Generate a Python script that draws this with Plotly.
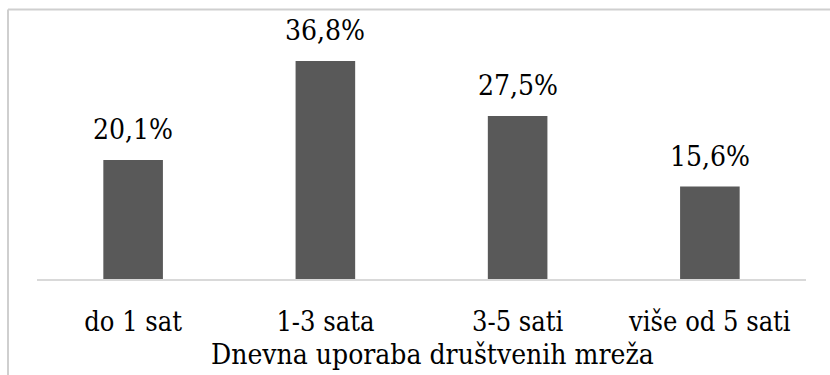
import plotly.graph_objects as go

categories = ["do 1 sat", "1-3 sata", "3-5 sati", "više od 5 sati"]
shares = [20.1, 36.8, 27.5, 15.6]
axis_title = "Dnevna uporaba društvenih mreža"

FONT = "DejaVu Serif Condensed, DejaVu Serif"
BAR_COLOR = "#595959"

fig = go.Figure(
    go.Bar(
        x=categories,
        y=shares,
        marker=dict(color=BAR_COLOR, line=dict(width=0)),
        hoverinfo="skip",
    )
)

# value labels above each bar, decimal comma
for cat, val in zip(categories, shares):
    fig.add_annotation(
        x=cat, y=val, xref="x", yref="y",
        text=f"{val:.1f}%".replace(".", ","),
        showarrow=False, yanchor="bottom", yshift=12,
        font=dict(family=FONT, size=28, color="#000000"),
    )

# axis title below the category labels
fig.add_annotation(
    x=0.514, y=-0.32, xref="paper", yref="paper",
    text=axis_title, showarrow=False, yanchor="middle",
    font=dict(family=FONT, size=28, color="#000000"),
)

# chart frame: top and left edges
frame = dict(color="#cfcfcf", width=2)
fig.add_shape(type="line", xref="paper", yref="paper",
              x0=-0.0377, x1=1.1, y0=1.137, y1=1.137, line=frame)
fig.add_shape(type="line", xref="paper", yref="paper",
              x0=-0.0377, x1=-0.0377, y0=1.137, y1=-0.5, line=frame)

fig.update_layout(
    width=830, height=375,
    margin=dict(l=37, r=24, t=42, b=96),
    paper_bgcolor="white", plot_bgcolor="white",
    bargap=0.69,
    showlegend=False,
    font=dict(family=FONT, color="#000000"),
    xaxis=dict(
        showline=True, linecolor="#d9d9d9", linewidth=2,
        showgrid=False, ticks="", zeroline=False,
        tickfont=dict(family=FONT, size=27, color="#000000"),
        ticklabelstandoff=18,
    ),
    yaxis=dict(
        range=[0, 40], visible=False, showgrid=False, zeroline=False,
    ),
)

fig.write_html("out.html")
